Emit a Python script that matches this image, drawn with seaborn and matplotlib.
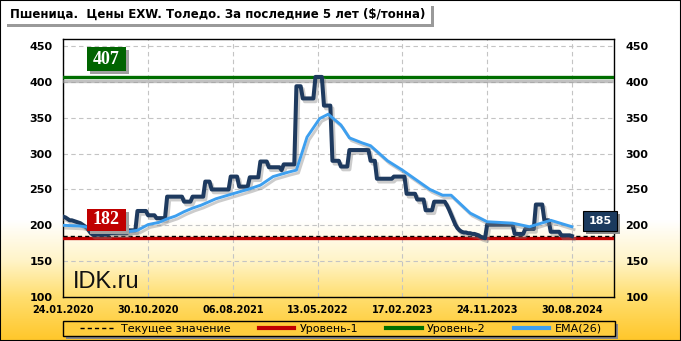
import matplotlib
matplotlib.use("Agg")
import numpy as np
import pandas as pd
import seaborn as sns
import matplotlib.pyplot as plt
import matplotlib.patheffects as pe
from matplotlib.patches import Rectangle
from matplotlib.lines import Line2D

# ---------------- data ----------------
title = "Пшеница.  Цены EXW. Толедо. За последние 5 лет ($/тонна)"
start_date = "2020-01-24"   # weekly series
prices = [
    212, 211, 209, 207, 207, 206, 205, 204, 203, 201, 199, 197, 193, 189,
    187, 187, 187, 187, 187, 187, 187, 187,
    189, 189, 189, 189, 189, 189, 189, 189, 189,
    193, 193, 193, 193,
    220, 220, 220, 220, 220,
    214, 214, 214, 214,
    210, 210, 210, 210, 210,
    240, 240, 240, 240, 240, 240, 240, 240,
    233, 233, 233, 233,
    240, 240, 240, 240, 240, 240,
    261, 261, 261,
    250, 250, 250, 250, 250, 250, 250, 250, 250,
    268, 268, 268, 268,
    254, 254, 254, 254, 254,
    267, 267, 267, 267, 267,
    289, 289, 289, 289,
    281, 281, 281, 281, 281, 281,
    277,
    285, 285, 285, 285, 285, 285,
    394, 394, 394,
    377, 377, 377, 377, 377, 377,
    407, 407, 407, 407,
    367, 367, 367, 367,
    290, 290, 290, 290,
    282, 282, 282, 282,
    305, 305, 305, 305, 305, 305, 305, 305, 305, 305,
    290, 290, 290,
    265, 265, 265, 265, 265, 265, 265, 265,
    268, 268, 268, 268, 268, 268,
    244, 244, 244, 244, 244,
    236, 236, 236, 236,
    221, 221, 221, 221,
    233, 233, 233, 233, 233, 233,
    228, 222, 215, 208, 201, 196, 193,
    191, 190, 190, 189, 189, 188, 188,
    187, 186, 184, 183, 182,
    201, 201, 201, 201, 201, 201, 201, 201, 201, 201, 201, 201, 201,
    188, 188, 188, 188, 188,
    195, 195, 195, 195, 195,
    229, 229, 229, 229,
    207, 207, 207,
    191, 191, 191, 191, 191,
    186, 186, 186, 186, 186,
    185,
]
ema_week = [0, 8, 17, 30, 35, 40, 45, 49, 53, 57, 61, 65, 72, 80, 88, 93, 99, 106,
            110, 115, 121, 125, 131, 135, 141, 145, 153, 160, 173, 179, 183, 192,
            200, 212, 220, 230, 240]
ema_vals = [200, 199, 195, 191, 193, 201, 204, 209, 213, 219, 224, 228, 237, 244, 251, 256, 268, 274,
            277, 323, 349, 355, 340, 322, 315, 311, 290, 277, 250, 242, 242, 217,
            205, 203, 198, 207, 198]
level1 = 182
level2 = 407
current = 185
yticks = [100, 150, 200, 250, 300, 350, 400, 450]
tick_labels = ["24.01.2020", "30.10.2020", "06.08.2021", "13.05.2022",
               "17.02.2023", "24.11.2023", "30.08.2024"]
legend_labels = ["Текущее значение", "Уровень-1", "Уровень-2", "EMA(26)"]

# ---------------- figure ----------------
plt.rcParams["font.family"] = ["DejaVu Sans"]
W, H = 681, 341
fig = plt.figure(figsize=(W / 100, H / 100), dpi=100)

# gradient background
stops_y = [0, 220, 260, 297, 341]
stops_c = np.array([[255, 255, 255], [255, 255, 255], [255, 244, 200],
                    [255, 222, 110], [255, 198, 40]]) / 255.0
ys = np.arange(H)
grad = np.stack([np.interp(ys, stops_y, stops_c[:, i]) for i in range(3)], axis=1)
bg = fig.add_axes([0, 0, 1, 1], zorder=-10)
bg.imshow(np.repeat(grad[:, None, :], 2, axis=1), aspect="auto",
          extent=[0, 1, 0, 1], interpolation="bilinear")
bg.set_xlim(0, 1); bg.set_ylim(0, 1); bg.axis("off")


def grad_at(y):
    return tuple(np.interp(y, stops_y, stops_c[:, i]) for i in range(3))


def px_rect(x0, y0, x1, y1, **kw):
    r = Rectangle((x0 / W, 1 - y1 / H), (x1 - x0) / W, (y1 - y0) / H,
                  transform=fig.transFigure, **kw)
    fig.add_artist(r)
    return r


ax = fig.add_axes([63.3 / W, 1 - 297 / H, 551 / W, 257.7 / H])
ax.patch.set_alpha(0)

start = pd.Timestamp(start_date)
dates = pd.date_range(start, periods=len(prices), freq="7D")
ema_dates = start + pd.to_timedelta(np.array(ema_week) * 7, unit="D")
df = pd.DataFrame({"date": dates, "price": prices})
df_ema = pd.DataFrame({"date": ema_dates, "ema": ema_vals})

shadow = [pe.SimpleLineShadow(offset=(1.5, -2.0), shadow_color="#808080", alpha=0.4), pe.Normal()]

ax.axhline(level2, color="#006E00", lw=2.4, zorder=3,
           path_effects=[pe.SimpleLineShadow(offset=(0, -3), shadow_color="#999999", alpha=0.6), pe.Normal()])
ax.axhline(level1, color="#C00000", lw=2.4, zorder=3)
ax.axhline(current, color="black", lw=1.0, ls=(0, (3, 2.2)), zorder=4)

sns.lineplot(data=df, x="date", y="price", ax=ax, color="#1E3A5F", lw=2.9,
             zorder=5, path_effects=shadow)
sns.lineplot(data=df_ema, x="date", y="ema", ax=ax, color="#3D9FEF", lw=2.1,
             zorder=6, path_effects=shadow)

tick_dates = pd.to_datetime(tick_labels, format="%d.%m.%Y")
ax.set_xlim(start, start + pd.Timedelta(days=1820))
ax.set_ylim(100, 459.5)
ax.set_xticks(tick_dates, labels=tick_labels, fontweight="bold", fontsize=7)
ax.set_yticks(yticks, labels=[str(v) for v in yticks], fontweight="bold", fontsize=8)
ax.tick_params(axis="y", length=0, pad=8, labelleft=True, labelright=True)
ax.tick_params(axis="x", length=0, pad=6)
ax.set_xlabel(""); ax.set_ylabel("")
ax.grid(True, color="#C4C4C4", ls=(0, (4, 3)), lw=0.8)
ax.set_axisbelow(True)
for s in ax.spines.values():
    s.set_color("black"); s.set_linewidth(1.0)

# title box
px_rect(7, 6, 434, 27, facecolor="#9a9a9a", edgecolor="none", zorder=9)
px_rect(4, 3, 431, 24, facecolor="white", edgecolor="none", zorder=10)
fig.text(9.6 / W, 1 - 14.5 / H, title, fontsize=8.5, fontweight="bold",
         va="center", ha="left", zorder=11)

# level boxes
for (x0, y0, x1, y1, col, txt) in [(87, 47.3, 126, 70.7, "#006400", str(level2)),
                                   (87, 208.5, 126, 231, "#C00000", str(level1))]:
    px_rect(x0 + 3, y0 + 3, x1 + 3, y1 + 3, facecolor="#a0a0a0", edgecolor="none", zorder=9)
    px_rect(x0, y0, x1, y1, facecolor=col, edgecolor="none", zorder=10)
    fig.text((x0 + x1) / 2 / W, 1 - (y0 + y1) / 2 / H, txt, color="white",
             family=["Liberation Serif", "DejaVu Serif"], fontweight="bold",
             fontsize=13, ha="center", va="center", zorder=11)

# current value box
px_rect(586.3, 213.7, 620.3, 233.7, facecolor="#8a8a8a", edgecolor="none", zorder=9)
px_rect(583.3, 210.7, 617.3, 230.7, facecolor="#1B3A5E", edgecolor="black", lw=0.8, zorder=10)
fig.text(600.3 / W, 1 - 220.9 / H, str(current), color="white", fontweight="bold",
         fontsize=8, ha="center", va="center", zorder=11)

# watermark
fig.text(72.7 / W, 1 - 287.5 / H, "IDK.ru", fontsize=17,
         family=["Liberation Sans", "DejaVu Sans"], color="#111111",
         va="baseline", ha="left", zorder=11)

# legend
px_rect(66, 324, 618, 339, facecolor="#8a8a8a", edgecolor="none", zorder=9)
px_rect(63, 321, 615, 336, facecolor=grad_at(328), edgecolor="black", lw=1.0, zorder=10)
handles = [Line2D([], [], color="black", lw=1.0, ls=(0, (3, 2.2))),
           Line2D([], [], color="#C00000", lw=3),
           Line2D([], [], color="#006E00", lw=3),
           Line2D([], [], color="#3D9FEF", lw=3)]
leg = fig.legend(handles, legend_labels, loc="center",
                 bbox_to_anchor=(341 / W, 1 - 328.5 / H), ncol=4, frameon=False,
                 fontsize=8, handlelength=3.2, handletextpad=0.5, columnspacing=2.5,
                 borderpad=0, borderaxespad=0)
leg.set_zorder(12)

# figure border
fig.add_artist(Rectangle((0, 0), 1, 1, transform=fig.transFigure, fill=False,
                         edgecolor="black", lw=1.5, zorder=20))

fig.savefig("out.png", dpi=100)
